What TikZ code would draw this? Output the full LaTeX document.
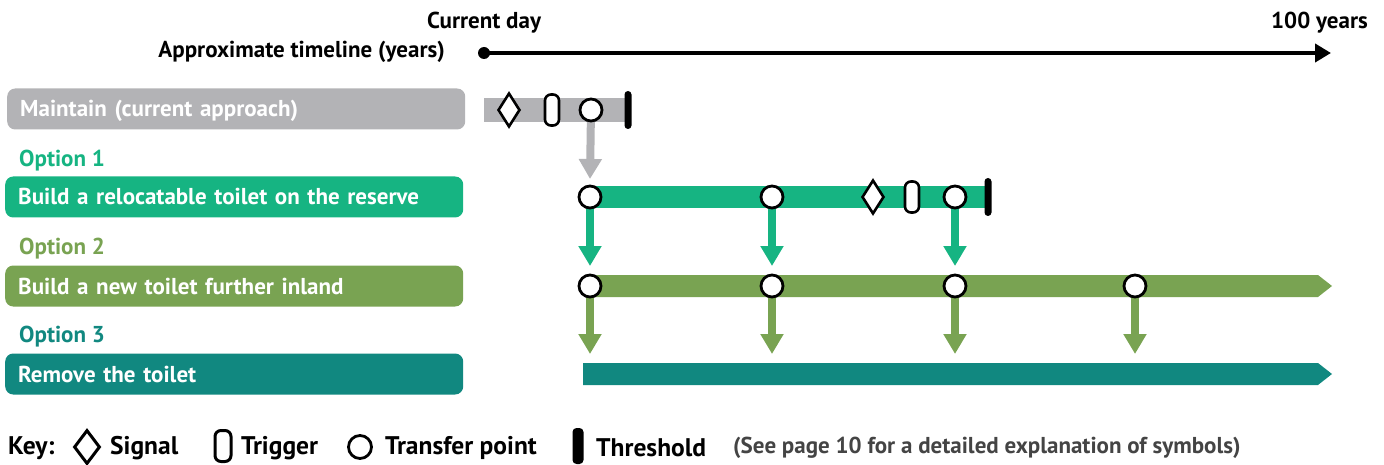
\documentclass[tikz,border=0pt]{standalone}
\usepackage{fontspec}
\setmainfont{PT Sans}
\usetikzlibrary{arrows.meta,shapes.geometric,backgrounds}
\definecolor{mgray}{HTML}{B3B3B6}
\definecolor{ogreen}{HTML}{16B482}
\definecolor{oolive}{HTML}{79A352}
\definecolor{oteal}{HTML}{118880}
\definecolor{notegray}{HTML}{444444}
\tikzset{
  txt/.style={font=\bfseries\fontsize{23}{26}\selectfont, inner sep=0pt},
  keytxt/.style={font=\bfseries\fontsize{25.5}{28}\selectfont, inner sep=0pt, anchor=west},
  optbox/.style={rounded corners=8pt, anchor=west, minimum height=41pt,
    text width=432pt, inner xsep=13pt, inner ysep=0pt, align=left,
    text height=19pt, text depth=3pt,
    text=white, font=\bfseries\fontsize{23}{26}\selectfont},
  optlabel/.style={txt, anchor=west},
  signal/.style={diamond, draw=black, fill=white, line width=2.6pt, inner sep=0pt,
    minimum width=22pt, minimum height=34pt},
  trigger/.style={rectangle, draw=black, fill=white, line width=2.6pt, inner sep=0pt,
    rounded corners=6pt, minimum width=14pt, minimum height=31pt},
  transfer/.style={circle, draw=black, fill=white, line width=2.8pt, inner sep=0pt,
    minimum size=22pt},
  threshold/.style={rectangle, fill=black, rounded corners=3.5pt, inner sep=0pt,
    minimum width=7pt, minimum height=38pt},
  flow/.style={line width=8pt, -{Triangle[length=20pt,width=22pt]}},
}
\begin{document}
\begin{tikzpicture}[x=1pt, y=-1pt]
\useasboundingbox (0,0) rectangle (1384,465);

% timeline
\node[txt, anchor=center] (cur) at (484,23) {Current day};
\node[txt, anchor=east] (hund) at (1368,23) {100 years};
\node[txt, anchor=east] (axl) at (445,52) {Approximate timeline (years)};
\fill (484,53) circle (6pt);
\coordinate (t0) at (484,53);
\coordinate (t1) at (1331,53);
\draw[line width=4pt, -{Triangle[length=16pt,width=18pt]}] (t0) -- (t1);

% option boxes and labels
\node[optbox, fill=mgray] (mbox) at (7,109) {Maintain (current approach)};
\node[optlabel, text=ogreen] (o1) at (19,161) {Option 1};
\node[optbox, fill=ogreen] (b1) at (5,197) {Build a relocatable toilet on the reserve};
\node[optlabel, text=oolive] (o2) at (19,249) {Option 2};
\node[optbox, fill=oolive] (b2) at (5,286) {Build a new toilet further inland};
\node[optlabel, text=oteal] (o3) at (19,337) {Option 3};
\node[optbox, fill=oteal] (b3) at (5,374) {Remove the toilet};

% symbols on the maintain pathway
\node[signal] (m1) at (509,110) {};
\node[trigger] (m2) at (552,110) {};
\node[transfer] (m3) at (591,110) {};
\node[threshold] (m4) at (628,110) {};

% symbols on option 1
\node[transfer] (p1) at (590,197) {};
\node[transfer] (p2) at (772,197) {};
\node[signal] (p4) at (873,197) {};
\node[trigger] (p5) at (912,197) {};
\node[transfer] (p3) at (955,197) {};
\node[threshold] (p6) at (988,197) {};

% symbols on option 2
\node[transfer] (q1) at (590,286) {};
\node[transfer] (q2) at (772,286) {};
\node[transfer] (q3) at (955,286) {};
\node[transfer] (q4) at (1135,286) {};

% landing points of the transfers
\coordinate (g1) at (590,179);
\coordinate (e1) at (590,266);
\coordinate (e2) at (772,266);
\coordinate (e3) at (955,266);
\coordinate (f1) at (590,354);
\coordinate (f2) at (772,354);
\coordinate (f3) at (955,354);
\coordinate (f4) at (1135,354);

\begin{scope}[on background layer]
% pathway bars
\fill[mgray] (484,98) rectangle (628,122);
\fill[ogreen] (590,186) rectangle (988,208);
\fill[oolive] (590,275) -- (1318,275) -- (1332,286) -- (1318,297) -- (590,297) -- cycle;
\fill[oteal] (583,363) -- (1318,363) -- (1332,374) -- (1318,385) -- (583,385) -- cycle;
% transfer arrows
\draw[flow, mgray] (m3.center) -- (g1);
\draw[flow, ogreen] (p1.center) -- (e1);
\draw[flow, ogreen] (p2.center) -- (e2);
\draw[flow, ogreen] (p3.center) -- (e3);
\draw[flow, oolive] (q1.center) -- (f1);
\draw[flow, oolive] (q2.center) -- (f2);
\draw[flow, oolive] (q3.center) -- (f3);
\draw[flow, oolive] (q4.center) -- (f4);
\end{scope}

% key
\node[keytxt] (k0) at (8,448) {Key:};
\node[signal, minimum width=26pt, minimum height=34pt, line width=3pt] (k1) at (87,447) {};
\node[keytxt] (k1t) at (110,448) {Signal};
\node[trigger, minimum width=16pt, minimum height=31pt, line width=3pt] (k2) at (223,446) {};
\node[keytxt] (k2t) at (241,448) {Trigger};
\node[transfer, minimum size=23pt] (k3) at (360,447) {};
\node[keytxt] (k3t) at (385,448) {Transfer point};
\node[threshold, minimum width=11pt, minimum height=36pt, rounded corners=4pt] (k4) at (578,446) {};
\node[keytxt] (k4t) at (596,448) {Threshold};
\node[keytxt, text=notegray, font=\bfseries\fontsize{23}{26}\selectfont] (k5) at (733,448) {(See page 10 for a detailed explanation of symbols)};
\end{tikzpicture}
\end{document}
